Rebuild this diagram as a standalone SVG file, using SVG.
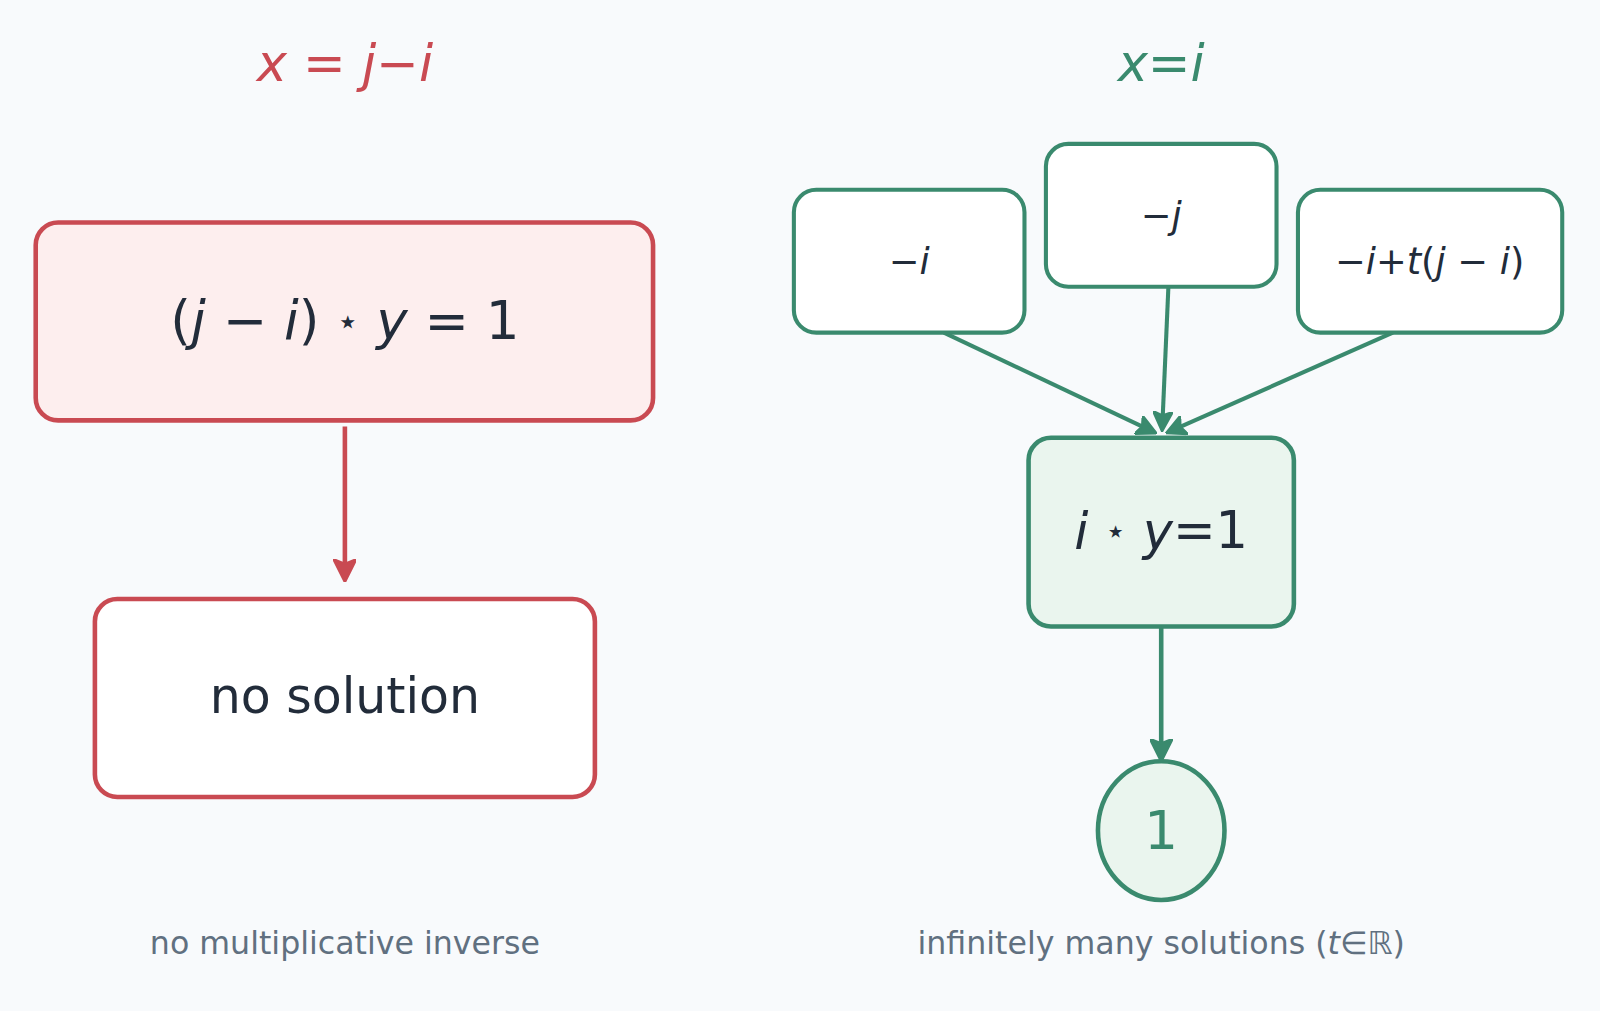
<svg xmlns="http://www.w3.org/2000/svg" width="1600" height="1011" viewBox="0 0 1600 1011">
<defs>
<marker id="ar" viewBox="0 0 10 10" refX="8" refY="5" markerWidth="5" markerHeight="5" orient="auto" markerUnits="strokeWidth"><path d="M0,0 L10,5 L0,10 L2,5 Z" fill="#c94a52" stroke="#c94a52" stroke-width="1" stroke-linejoin="round"/></marker>
<marker id="ag" viewBox="0 0 10 10" refX="8" refY="5" markerWidth="5" markerHeight="5" orient="auto" markerUnits="strokeWidth"><path d="M0,0 L10,5 L0,10 L2,5 Z" fill="#3a8a6e" stroke="#3a8a6e" stroke-width="1" stroke-linejoin="round"/></marker>
</defs>
<style>
text{font-family:"DejaVu Sans","Liberation Sans",sans-serif;text-anchor:middle;dominant-baseline:central;fill:#222c3a}
.i{font-style:italic}
.red{stroke:#c94a52;stroke-width:4.5}
.grn{stroke:#3a8a6e;stroke-width:4}
.cap{fill:#607080;font-size:31px}
</style>
<rect width="1600" height="1011" fill="#f8fafc"/>
<g transform="scale(1.0204)">
<text x="338" y="62" font-size="50" style="fill:#c94a52"><tspan class="i">x</tspan> = <tspan class="i">j</tspan>−<tspan class="i">i</tspan></text>
<text x="1138" y="62" font-size="50" style="fill:#3a8a6e"><tspan class="i">x</tspan>=<tspan class="i">i</tspan></text>
<g id="connectors" fill="none">
<line x1="338" y1="418" x2="338" y2="566" class="red" marker-end="url(#ar)"/>
<line x1="925" y1="326" x2="1130" y2="423" class="grn" marker-end="url(#ag)"/>
<line x1="1145" y1="282" x2="1139" y2="419" class="grn" marker-end="url(#ag)"/>
<line x1="1365" y1="326" x2="1146" y2="423" class="grn" marker-end="url(#ag)"/>
<line x1="1138" y1="612" x2="1138" y2="742" class="grn" style="stroke-width:4.5" marker-end="url(#ag)"/>
</g>
<g id="eqL"><rect x="35" y="218" width="605" height="194" rx="22" fill="#fdeeee" class="red"/>
<text x="338" y="315" font-size="52">(<tspan class="i">j</tspan> − <tspan class="i">i</tspan>) <tspan font-size="36">⋆</tspan> <tspan class="i">y</tspan> = 1</text></g>
<g id="noSol"><rect x="93" y="587" width="490" height="194" rx="22" fill="#fff" class="red"/>
<text x="338" y="683" font-size="48">no solution</text></g>
<g id="n1"><rect x="778" y="186" width="226" height="140" rx="22" fill="#fff" class="grn"/>
<text x="891" y="256" font-size="36">−<tspan class="i">i</tspan></text></g>
<g id="n2"><rect x="1025" y="141" width="226" height="140" rx="22" fill="#fff" class="grn"/>
<text x="1138" y="211" font-size="36">−<tspan class="i">j</tspan></text></g>
<g id="n3"><rect x="1272" y="186" width="259" height="140" rx="22" fill="#fff" class="grn"/>
<text x="1401" y="256" font-size="36">−<tspan class="i">i</tspan>+<tspan class="i">t</tspan>(<tspan class="i">j</tspan> − <tspan class="i">i</tspan>)</text></g>
<g id="eqR"><rect x="1008" y="429" width="260" height="185" rx="22" fill="#eaf5ee" class="grn" style="stroke-width:4.5"/>
<text x="1138" y="520" font-size="50"><tspan class="i">i</tspan> <tspan font-size="34">⋆</tspan> <tspan class="i">y</tspan>=1</text></g>
<g id="one"><ellipse cx="1138" cy="814" rx="62" ry="68" fill="#eaf5ee" class="grn" style="stroke-width:4.5"/>
<text x="1138" y="814" font-size="52" style="fill:#3a8a6e">1</text></g>
<text x="338" y="924" class="cap">no multiplicative inverse</text>
<text x="1138" y="924" class="cap">infinitely many solutions  (<tspan class="i">t</tspan>∈ℝ)</text>
</g>
</svg>
